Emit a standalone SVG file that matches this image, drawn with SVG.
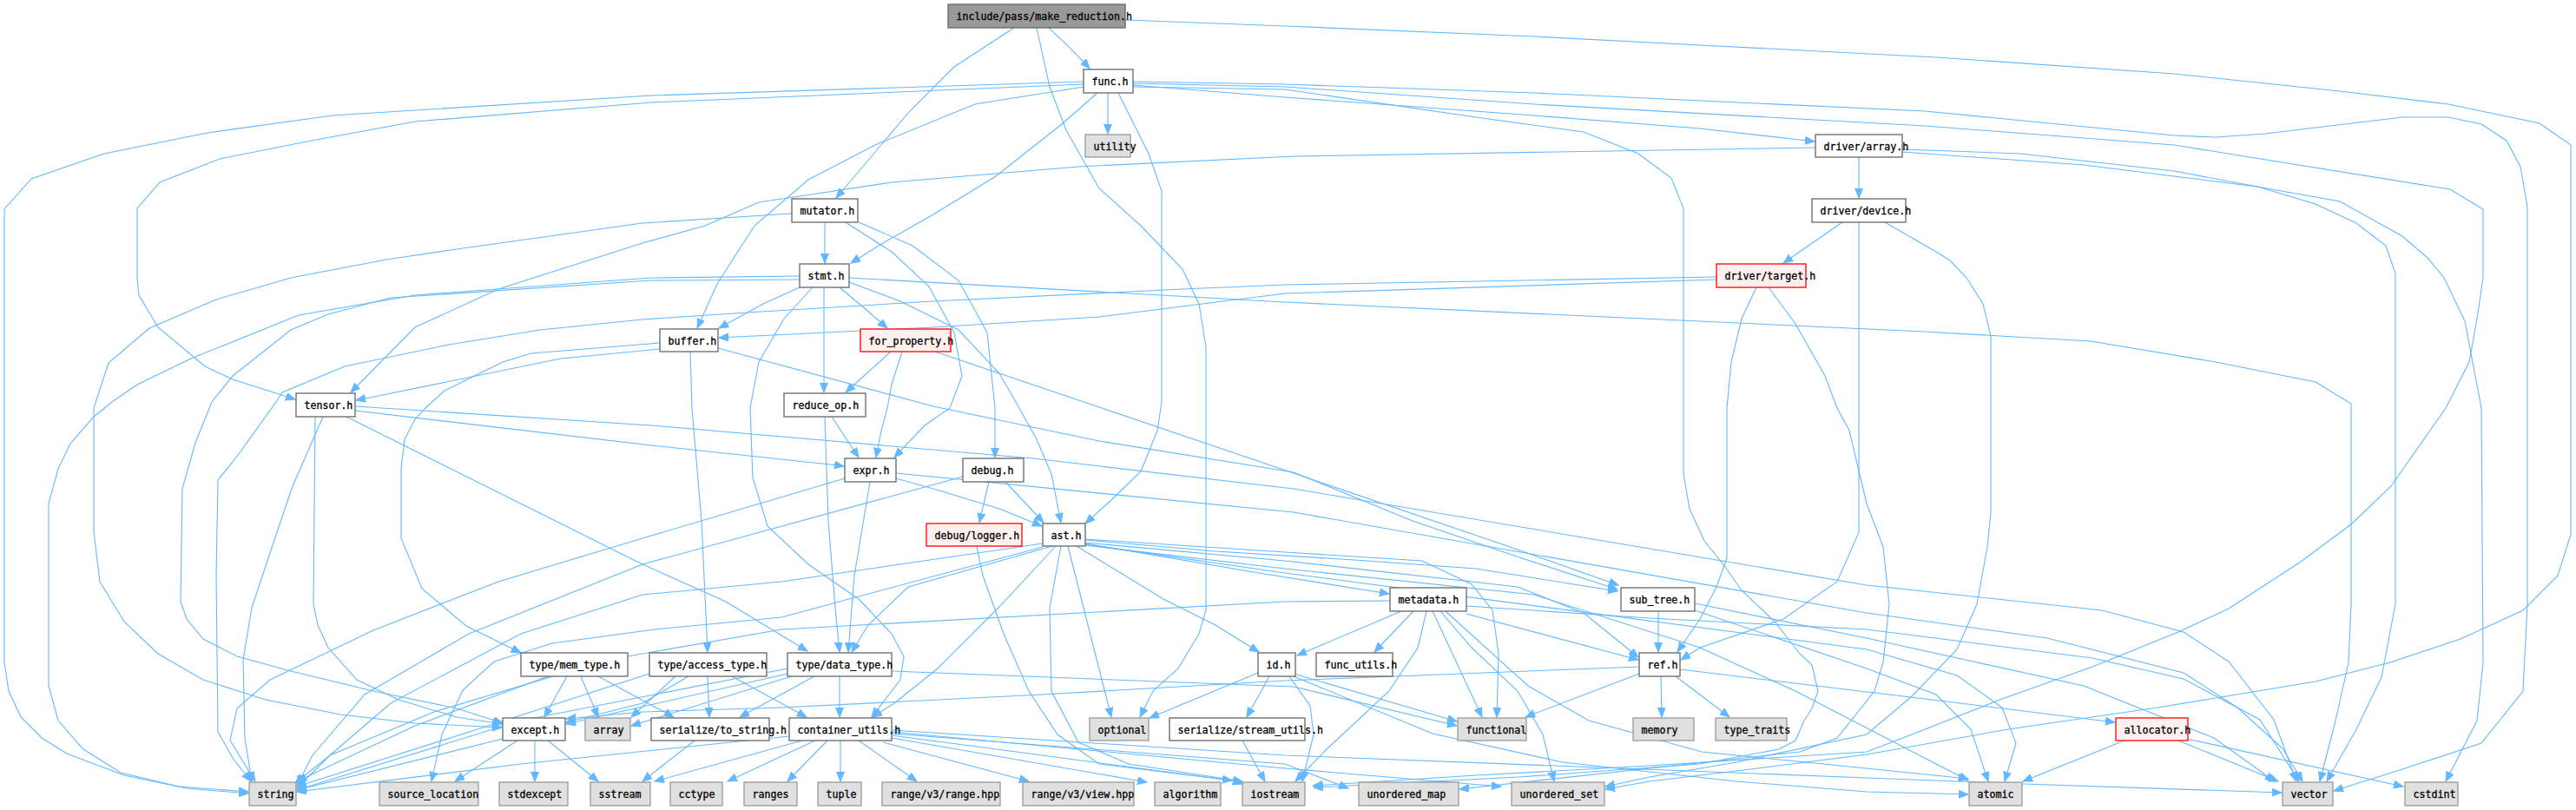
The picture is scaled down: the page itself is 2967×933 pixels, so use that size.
<svg xmlns="http://www.w3.org/2000/svg" width="2967" height="933" viewBox="0 0 2967 933">
<defs>
<marker id="a" markerUnits="userSpaceOnUse" markerWidth="12" markerHeight="10" refX="11" refY="4.5" orient="auto"><path d="M0,0 L11,4.5 L0,9 z" fill="#63b8ff" stroke="#63b8ff" stroke-width="1"/></marker>
</defs>
<style>
.e{fill:none;stroke:#63b8ff;stroke-width:1.1;marker-end:url(#a)}
.n rect{fill:#fff;stroke:#666;stroke-width:1.3}
.s rect{fill:#e0e0e0;stroke:#999;stroke-width:1.3}
.r rect{fill:#fff0f0;stroke:#f00;stroke-width:1.3}
.root rect{fill:#999;stroke:#666;stroke-width:1.3}
text{font-family:"DejaVu Sans Mono","Liberation Mono",monospace;font-size:11.6px;fill:#000;stroke:#000;stroke-width:0.3}
</style>
<rect width="2967" height="933" fill="#fff"/>
<g id="edges">
<path class="e" d="M1208,32 C1225,48 1240,62 1255,79"/>
<path class="e" d="M1168,32 L1099,77 L1046,130 L998,187 L963,228"/>
<path class="e" d="M1194,32 L1209,100 L1228,150 L1266,217 L1314,260 L1362,310 L1381,350 L1389,400 L1389,703 L1381,730 L1357,770 L1328,796 L1313,826"/>
<path class="e" d="M1296,23 L1480,30 L1767,42 L1958,52 L2230,66 L2504,85 L2695,105 L2820,120 L2925,142 L2961,167 L2961,616 L2946,663 L2906,703 L2834,736 L2753,763 L2667,785 L2485,815 L2313,840 L2150,869 L2000,888 L1900,900 L1849,909"/>
<path class="e" d="M1276,107 L1276,154"/>
<path class="e" d="M1264,107 L1223,143 L1147,203 L1075,247 L1017,280 L980,303"/>
<path class="e" d="M1248,100 L1123,120 L1008,167 L931,207 L869,260 L826,327 L803,378"/>
<path class="e" d="M1248,97 L750,118 L478,140 L359,162 L253,183 L184,210 L158,240 L158,320 L160,340 L182,377 L236,422 L268,437 L340,460"/>
<path class="e" d="M1248,94 L750,110 L383,133 L239,153 L120,177 L36,206 L5,241 L5,763 L10,796 L24,826 L48,850 L77,868 L143,893 L215,908 L286,914"/>
<path class="e" d="M1288,107 L1323,177 L1338,220 L1338,463 L1333,496 L1314,543 L1280,576 L1250,603"/>
<path class="e" d="M1305,98 L1480,112 L1767,133 L1958,148 L2090,163"/>
<path class="e" d="M1305,94 L1480,97 L1767,107 L2217,128 L2504,156 L2552,158 L2609,154 L2767,135 L2820,135 L2858,143 L2887,162 L2903,192 L2911,238 L2911,696 L2906,796 L2858,856 L2767,886 L2688,911"/>
<path class="e" d="M1305,100 L1480,103 L1700,135 L1824,152 L1887,177 L1925,205 L1939,240 L1939,546 L1946,586 L1963,623 L1987,653 L2006,680 L2044,716 L2073,753 L2087,766 L2094,796 L2087,816 L2078,830 L2068,853 L2049,863 L1958,880 L1750,895 L1513,907"/>
<path class="e" d="M1305,96 L1480,100 L1767,120 L2217,145 L2504,167 L2822,218 L2860,241 L2860,320 L2853,367 L2844,417 L2817,470 L2754,560 L2708,604 L2650,647 L2567,701 L2509,728 L2410,768 L2306,805 L2202,846 L2150,866 L1900,882 L1700,893 L1512,905"/>
<path class="e" d="M950,256 L950,303"/>
<path class="e" d="M912,246 L740,257 L526,287 L445,299 L335,320 L249,345 L172,378 L125,418 L108,470 L108,613 L115,670 L143,716 L182,753 L234,783 L306,806 L392,823 L478,833 L578,838"/>
<path class="e" d="M989,256 L1051,283 L1104,323 L1137,383 L1146,470 L1146,527"/>
<path class="e" d="M974,256 L1027,290 L1070,330 L1099,383 L1108,433 L1094,470 L1065,490 L1030,527"/>
<path class="e" d="M921,318 L750,320 L478,340 L344,363 L220,413 L158,443 L129,463 L108,480 L81,511 L67,540 L56,580 L56,790 L67,830 L96,863 L139,890 L206,906 L286,912"/>
<path class="e" d="M921,322 L750,323 L450,343 L378,362 L335,380 L268,433 L244,463 L225,510 L210,563 L208,693 L215,713 L234,736 L273,756 L335,773 L430,796 L526,816 L579,833"/>
<path class="e" d="M921,331 L879,350 L828,378"/>
<path class="e" d="M936,331 L903,367 L874,417 L864,470 L867,550 L884,606 L931,650 L989,690 L1027,730 L1041,756 L1037,783 L1004,826"/>
<path class="e" d="M967,331 L998,357 L1022,378"/>
<path class="e" d="M949,331 L949,452"/>
<path class="e" d="M978,325 L1037,347 L1104,380 L1151,430 L1170,463 L1194,506 L1211,546 L1222,602"/>
<path class="e" d="M978,320 L1480,348 L2217,382 L2408,393 L2552,417 L2667,440 L2708,465 L2708,696 L2705,763 L2690,830 L2672,900"/>
<path class="e" d="M760,402 L646,413 L426,458 L410,461"/>
<path class="e" d="M760,395 L612,407 L579,417 L512,450 L490,470 L478,483 L466,506 L462,540 L462,620 L486,678 L537,721 L600,752"/>
<path class="e" d="M795,405 L797,470 L808,600 L815,751"/>
<path class="e" d="M827,401 L1075,468 L1266,508 L1490,544 L1627,600 L1750,642 L1863,679"/>
<path class="e" d="M1077,405 L1266,469 L1490,545 L1748,633 L1864,674"/>
<path class="e" d="M1026,405 L974,452"/>
<path class="e" d="M1039,405 L1027,443 L1022,470 L1015,496 L1009,527"/>
<path class="e" d="M958,480 L989,527"/>
<path class="e" d="M950,480 L954,600 L962,700 L967,751"/>
<path class="e" d="M409,473 L750,513 L965,536 L972,537"/>
<path class="e" d="M409,468 L750,490 L1190,528 L1490,563 L2150,674 L2421,703 L2515,728 L2567,762 L2619,829 L2645,900"/>
<path class="e" d="M399,480 L740,650 L836,693 L930,750"/>
<path class="e" d="M363,480 L361,696 L366,720 L378,746 L411,783 L459,806 L526,826 L578,834"/>
<path class="e" d="M372,480 L337,560 L320,610 L290,700 L280,760 L282,850 L290,900"/>
<path class="e" d="M1032,551 L1075,563 L1151,586 L1200,606"/>
<path class="e" d="M1002,555 L984,663 L977,751"/>
<path class="e" d="M973,551 L740,620 L574,670 L430,726 L311,783 L273,816 L265,853 L294,900"/>
<path class="e" d="M1032,545 L1490,590 L2150,706 L2358,735 L2515,775 L2577,815 L2629,862 L2652,900"/>
<path class="e" d="M1139,555 L1128,602"/>
<path class="e" d="M1158,555 L1202,602"/>
<path class="e" d="M1109,549 L740,650 L540,730 L420,800 L360,870 L342,905"/>
<path class="e" d="M1125,629 L1132,663 L1156,730 L1185,796 L1218,846 L1266,880 L1419,899 L1431,903"/>
<path class="e" d="M1250,626 L1450,660 L1600,684"/>
<path class="e" d="M1250,622 L1400,635 L1560,645 L1700,655 L1863,681"/>
<path class="e" d="M1250,625 L1480,646 L1748,676 L1824,706 L1887,757"/>
<path class="e" d="M1250,621 L1480,636 L1638,646 L1695,673 L1719,703 L1726,753 L1724,826"/>
<path class="e" d="M1240,629 L1340,690 L1400,720 L1450,751"/>
<path class="e" d="M1230,629 L1280,826"/>
<path class="e" d="M1216,629 L1150,700 L1080,770 L1030,810 L1005,826"/>
<path class="e" d="M1212,629 L1046,676 L1000,720 L981,751"/>
<path class="e" d="M1222,629 L1209,700 L1211,796 L1242,855 L1300,880 L1431,900"/>
<path class="e" d="M1201,626 L900,670 L740,685 L600,730 L450,810 L380,870 L342,908"/>
<path class="e" d="M1201,630 L900,711 L754,725 L636,741 L569,762 L533,795 L509,846 L497,900"/>
<path class="e" d="M1250,627 L1480,660 L2150,748 L2254,778 L2306,815 L2322,856 L2309,900"/>
<path class="e" d="M1250,628 L1480,655 L1767,685 L1958,746 L2068,796 L2230,880 L2267,899"/>
<path class="e" d="M1614,704 L1494,755"/>
<path class="e" d="M1628,704 L1583,751"/>
<path class="e" d="M1643,704 L1633,746 L1600,796 L1528,863 L1492,900"/>
<path class="e" d="M1650,704 L1707,826"/>
<path class="e" d="M1659,704 L1695,746 L1748,796 L1777,846 L1790,900"/>
<path class="e" d="M1689,707 L1887,760"/>
<path class="e" d="M1689,698 L1900,712 L2150,725 L2410,758 L2515,782 L2603,829 L2648,900"/>
<path class="e" d="M1601,692 L1480,693 L900,725 L700,760 L500,820 L380,870 L340,902"/>
<path class="e" d="M1665,704 L1760,790 L1830,830 L1960,866 L2100,880 L2267,897"/>
<path class="e" d="M1910,704 L1910,751"/>
<path class="e" d="M1952,695 L2150,735 L2400,790 L2550,850 L2620,900"/>
<path class="e" d="M1952,703 L2150,770 L2230,800 L2270,840 L2290,900"/>
<path class="e" d="M1913,779 L1914,826"/>
<path class="e" d="M1930,779 L1992,826"/>
<path class="e" d="M1888,776 L1757,826"/>
<path class="e" d="M1888,768 L1480,784 L1200,800 L900,815 L740,820 L652,828"/>
<path class="e" d="M1935,771 L2217,805 L2436,832"/>
<path class="e" d="M1449,775 L1324,827"/>
<path class="e" d="M1462,779 L1436,826"/>
<path class="e" d="M1485,779 L1509,813 L1513,846 L1500,900"/>
<path class="e" d="M1490,776 L1678,831"/>
<path class="e" d="M1490,779 L1650,845 L1800,878 L2000,900 L2150,912 L2267,915"/>
<path class="e" d="M653,779 L627,826"/>
<path class="e" d="M669,779 L689,826"/>
<path class="e" d="M689,779 L776,826"/>
<path class="e" d="M631,779 L478,836 L342,900"/>
<path class="e" d="M815,779 L817,826"/>
<path class="e" d="M843,779 L929,826"/>
<path class="e" d="M793,779 L740,810 L652,832"/>
<path class="e" d="M778,779 L727,826"/>
<path class="e" d="M748,776 L550,840 L342,906"/>
<path class="e" d="M967,779 L967,826"/>
<path class="e" d="M938,779 L852,826"/>
<path class="e" d="M1027,773 L1490,791 L1678,836"/>
<path class="e" d="M912,779 L727,836"/>
<path class="e" d="M907,776 L652,834"/>
<path class="e" d="M907,770 L600,830 L342,910"/>
<path class="e" d="M579,851 L342,910"/>
<path class="e" d="M596,853 L524,900"/>
<path class="e" d="M616,853 L616,900"/>
<path class="e" d="M631,853 L689,900"/>
<path class="e" d="M800,853 L740,900"/>
<path class="e" d="M909,848 L600,880 L342,912"/>
<path class="e" d="M924,853 L754,900"/>
<path class="e" d="M939,853 L838,900"/>
<path class="e" d="M953,853 L907,900"/>
<path class="e" d="M968,853 L968,900"/>
<path class="e" d="M989,853 L1056,900"/>
<path class="e" d="M1017,855 L1185,900"/>
<path class="e" d="M1027,850 L1321,901"/>
<path class="e" d="M1027,847 L1419,899"/>
<path class="e" d="M1027,845 L1480,880 L1553,908"/>
<path class="e" d="M1027,843 L1480,885 L1729,906"/>
<path class="e" d="M1027,841 L1480,870 L2150,896 L2332,903 L2628,913"/>
<path class="e" d="M1431,853 L1457,900"/>
<path class="e" d="M2447,853 L2330,900"/>
<path class="e" d="M2509,853 L2624,900"/>
<path class="e" d="M2519,851 L2768,906"/>
<path class="e" d="M2141,181 L2141,228"/>
<path class="e" d="M2091,170 L1490,180 L1242,192 L1027,210 L941,223 L874,233 L812,260 L740,280 L574,333 L478,377 L404,452"/>
<path class="e" d="M2191,172 L2327,177 L2504,197 L2600,215 L2667,235 L2714,257 L2748,283 L2759,315 L2759,696 L2743,780 L2714,840 L2680,900"/>
<path class="e" d="M2191,175 L2400,190 L2600,215 L2695,232 L2767,272 L2796,297 L2815,320 L2839,370 L2858,470 L2860,763 L2853,830 L2817,900"/>
<path class="e" d="M2122,256 L2054,303"/>
<path class="e" d="M2141,256 L2141,613 L2116,670 L2054,713 L1958,746 L1936,760"/>
<path class="e" d="M2171,256 L2230,290 L2246,300 L2265,320 L2284,350 L2293,387 L2293,590 L2289,630 L2277,696 L2254,748 L2202,802 L2150,846 L2000,878 L1900,895 L1849,906"/>
<path class="e" d="M1977,319 L1480,328 L1362,333 L1075,347 L860,360 L740,368 L622,380 L517,397 L397,422 L325,452 L318,463 L275,523 L251,553 L249,663 L251,843 L268,873 L289,900"/>
<path class="e" d="M1977,322 L1480,338 L1266,365 L1075,377 L828,389"/>
<path class="e" d="M2023,331 L2006,367 L1994,417 L1989,470 L1989,643 L1977,676 L1958,713 L1932,751"/>
<path class="e" d="M2037,331 L2068,373 L2102,433 L2116,470 L2130,496 L2150,580 L2169,630 L2176,696 L2169,763 L2159,796 L2116,850 L2073,866 L1900,885 L1681,909"/>
</g>
<g id="n_make_reduction" class="root"><rect x="1092" y="5" width="204" height="27"/><text x="1101.5" y="23">include/pass/make_reduction.h</text></g>
<g id="n_func" class="n"><rect x="1248" y="80" width="57" height="27"/><text x="1257.5" y="98">func.h</text></g>
<g id="n_utility" class="s"><rect x="1250" y="155" width="52" height="26"/><text x="1259.5" y="172.5">utility</text></g>
<g id="n_driver_array" class="n"><rect x="2091" y="155" width="100" height="26"/><text x="2100.5" y="172.5">driver/array.h</text></g>
<g id="n_mutator" class="n"><rect x="912" y="229" width="76" height="27"/><text x="921.5" y="247">mutator.h</text></g>
<g id="n_driver_device" class="n"><rect x="2087" y="229" width="108" height="27"/><text x="2096.5" y="247">driver/device.h</text></g>
<g id="n_stmt" class="n"><rect x="921" y="304" width="57" height="27"/><text x="930.5" y="322">stmt.h</text></g>
<g id="n_driver_target" class="r"><rect x="1977" y="304" width="103" height="27"/><text x="1986.5" y="322">driver/target.h</text></g>
<g id="n_buffer" class="n"><rect x="760" y="379" width="67" height="26"/><text x="769.5" y="396.5">buffer.h</text></g>
<g id="n_for_property" class="r"><rect x="991" y="379" width="104" height="26"/><text x="1000.5" y="396.5">for_property.h</text></g>
<g id="n_tensor" class="n"><rect x="341" y="453" width="68" height="27"/><text x="350.5" y="471">tensor.h</text></g>
<g id="n_reduce_op" class="n"><rect x="903" y="453" width="94" height="27"/><text x="912.5" y="471">reduce_op.h</text></g>
<g id="n_expr" class="n"><rect x="973" y="528" width="59" height="27"/><text x="982.5" y="546">expr.h</text></g>
<g id="n_debug" class="n"><rect x="1109" y="528" width="70" height="27"/><text x="1118.5" y="546">debug.h</text></g>
<g id="n_debug_logger" class="r"><rect x="1067" y="603" width="110" height="26"/><text x="1076.5" y="620.5">debug/logger.h</text></g>
<g id="n_ast" class="n"><rect x="1201" y="603" width="49" height="26"/><text x="1210.5" y="620.5">ast.h</text></g>
<g id="n_metadata" class="n"><rect x="1601" y="677" width="88" height="27"/><text x="1610.5" y="695">metadata.h</text></g>
<g id="n_sub_tree" class="n"><rect x="1867" y="677" width="85" height="27"/><text x="1876.5" y="695">sub_tree.h</text></g>
<g id="n_mem_type" class="n"><rect x="600" y="752" width="123" height="27"/><text x="609.5" y="770">type/mem_type.h</text></g>
<g id="n_access_type" class="n"><rect x="748" y="752" width="135" height="27"/><text x="757.5" y="770">type/access_type.h</text></g>
<g id="n_data_type" class="n"><rect x="907" y="752" width="120" height="27"/><text x="916.5" y="770">type/data_type.h</text></g>
<g id="n_id" class="n"><rect x="1449" y="752" width="43" height="27"/><text x="1458.5" y="770">id.h</text></g>
<g id="n_func_utils" class="n"><rect x="1516" y="752" width="88" height="27"/><text x="1525.5" y="770">func_utils.h</text></g>
<g id="n_ref" class="n"><rect x="1888" y="752" width="47" height="27"/><text x="1897.5" y="770">ref.h</text></g>
<g id="n_except" class="n"><rect x="579" y="827" width="72" height="26"/><text x="588.5" y="844.5">except.h</text></g>
<g id="n_array" class="s"><rect x="674" y="827" width="52" height="26"/><text x="683.5" y="844.5">array</text></g>
<g id="n_to_string" class="n"><rect x="750" y="827" width="136" height="26"/><text x="759.5" y="844.5">serialize/to_string.h</text></g>
<g id="n_container_utils" class="n"><rect x="909" y="827" width="118" height="26"/><text x="918.5" y="844.5">container_utils.h</text></g>
<g id="n_optional" class="s"><rect x="1255" y="827" width="68" height="26"/><text x="1264.5" y="844.5">optional</text></g>
<g id="n_stream_utils" class="n"><rect x="1347" y="827" width="156" height="26"/><text x="1356.5" y="844.5">serialize/stream_utils.h</text></g>
<g id="n_functional" class="s"><rect x="1679" y="827" width="79" height="26"/><text x="1688.5" y="844.5">functional</text></g>
<g id="n_memory" class="s"><rect x="1881" y="827" width="70" height="26"/><text x="1890.5" y="844.5">memory</text></g>
<g id="n_type_traits" class="s"><rect x="1976" y="827" width="82" height="26"/><text x="1985.5" y="844.5">type_traits</text></g>
<g id="n_allocator" class="r"><rect x="2437" y="827" width="83" height="26"/><text x="2446.5" y="844.5">allocator.h</text></g>
<g id="n_string" class="s"><rect x="287" y="901" width="54" height="27"/><text x="296.5" y="919">string</text></g>
<g id="n_source_location" class="s"><rect x="437" y="901" width="114" height="27"/><text x="446.5" y="919">source_location</text></g>
<g id="n_stdexcept" class="s"><rect x="575" y="901" width="79" height="27"/><text x="584.5" y="919">stdexcept</text></g>
<g id="n_sstream" class="s"><rect x="680" y="901" width="69" height="27"/><text x="689.5" y="919">sstream</text></g>
<g id="n_cctype" class="s"><rect x="772" y="901" width="60" height="27"/><text x="781.5" y="919">cctype</text></g>
<g id="n_ranges" class="s"><rect x="857" y="901" width="61" height="27"/><text x="866.5" y="919">ranges</text></g>
<g id="n_tuple" class="s"><rect x="942" y="901" width="50" height="27"/><text x="951.5" y="919">tuple</text></g>
<g id="n_range_hpp" class="s"><rect x="1016" y="901" width="136" height="27"/><text x="1025.5" y="919">range/v3/range.hpp</text></g>
<g id="n_view_hpp" class="s"><rect x="1178" y="901" width="128" height="27"/><text x="1187.5" y="919">range/v3/view.hpp</text></g>
<g id="n_algorithm" class="s"><rect x="1330" y="901" width="76" height="27"/><text x="1339.5" y="919">algorithm</text></g>
<g id="n_iostream" class="s"><rect x="1431" y="901" width="72" height="27"/><text x="1440.5" y="919">iostream</text></g>
<g id="n_unordered_map" class="s"><rect x="1565" y="901" width="115" height="27"/><text x="1574.5" y="919">unordered_map</text></g>
<g id="n_unordered_set" class="s"><rect x="1741" y="901" width="107" height="27"/><text x="1750.5" y="919">unordered_set</text></g>
<g id="n_atomic" class="s"><rect x="2268" y="901" width="61" height="27"/><text x="2277.5" y="919">atomic</text></g>
<g id="n_vector" class="s"><rect x="2629" y="901" width="58" height="27"/><text x="2638.5" y="919">vector</text></g>
<g id="n_cstdint" class="s"><rect x="2770" y="901" width="61" height="27"/><text x="2779.5" y="919">cstdint</text></g>
</svg>
